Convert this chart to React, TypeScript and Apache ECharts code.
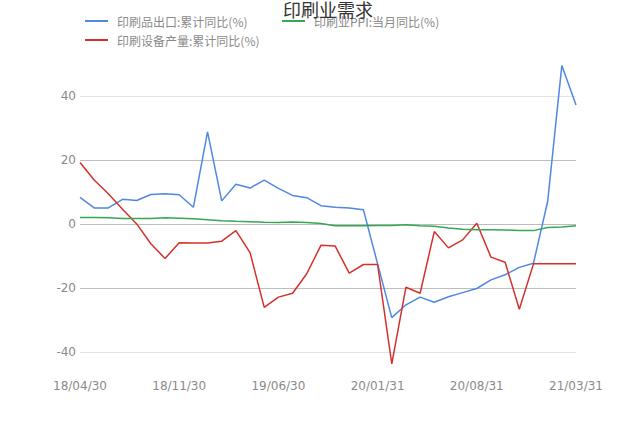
import React, { useEffect, useRef } from 'react';
import * as echarts from 'echarts';

const dates = [
  '18/04/30', '18/05/31', '18/06/30', '18/07/31', '18/08/31', '18/09/30',
  '18/10/31', '18/11/30', '18/12/31', '19/01/31', '19/02/28', '19/03/31',
  '19/04/30', '19/05/31', '19/06/30', '19/07/31', '19/08/31', '19/09/30',
  '19/10/31', '19/11/30', '19/12/31', '20/01/31', '20/02/29', '20/03/31',
  '20/04/30', '20/05/31', '20/06/30', '20/07/31', '20/08/31', '20/09/30',
  '20/10/31', '20/11/30', '20/12/31', '21/01/31', '21/02/28', '21/03/31',
];

// 印刷品出口:累计同比(%)
const printExport = [
  8.3, 5.0, 5.0, 7.7, 7.3, 9.2, 9.4, 9.1, 5.2, 28.8, 7.2, 12.4,
  11.2, 13.7, 11.1, 8.9, 8.2, 5.7, 5.2, 5.0, 4.4, -12.5, -29.3, -25.3,
  -22.9, -24.5, -22.8, -21.5, -20.2, -17.5, -15.9, -13.6, -12.3, 7.0, 49.5, 37.2,
];

// 印刷业PPI:当月同比(%)
const printPpi = [
  2.0, 2.0, 1.9, 1.7, 1.7, 1.7, 1.9, 1.8, 1.6, 1.3, 1.0, 0.8,
  0.7, 0.5, 0.4, 0.6, 0.4, 0.1, -0.6, -0.6, -0.6, -0.5, -0.5, -0.3,
  -0.6, -0.7, -1.3, -1.7, -1.8, -1.8, -1.9, -2.1, -2.1, -1.1, -1.0, -0.6,
];

// 印刷设备产量:累计同比(%)
const equipOutput = [
  19.2, 13.7, 9.4, 4.6, 0.0, -6.2, -10.8, -5.9, -6.0, -6.0, -5.4, -2.1,
  -9.0, -26.1, -22.9, -21.7, -15.6, -6.7, -6.9, -15.4, -12.7, -12.7, -43.8, -19.8,
  -21.7, -2.4, -7.5, -5.0, 0.2, -10.4, -12.0, -26.7, -12.5, -12.5, -12.5, -12.5,
];

const cjkFont = '"Noto Sans CJK SC", "DejaVu Sans", sans-serif';

const App: React.FC = () => {
  const chartRef = useRef<HTMLDivElement>(null);

  useEffect(() => {
    if (!chartRef.current) return;
    const chart = echarts.init(chartRef.current, undefined, { renderer: 'svg' });

    // legend icons are thin bars, rows kept 19px apart by the text line height
    const legendText = { color: '#8a8a8a', fontSize: 12, fontFamily: cjkFont, lineHeight: 14, padding: [0, 0, 0, 4] };

    const option: echarts.EChartsOption = {
      animation: false,
      title: {
        text: '印刷业需求',
        left: 283,
        top: 0,
        padding: 0,
        textStyle: { fontSize: 18, fontWeight: 'normal', color: '#333', fontFamily: cjkFont },
      },
      legend: [
        {
          orient: 'vertical',
          left: 85,
          top: 14,
          padding: 0,
          itemGap: 5,
          icon: 'rect',
          itemWidth: 23,
          itemHeight: 2,
          textStyle: legendText,
          data: ['印刷品出口:累计同比(%)', '印刷设备产量:累计同比(%)'],
        },
        {
          orient: 'vertical',
          left: 282,
          top: 14,
          padding: 0,
          icon: 'rect',
          itemWidth: 23,
          itemHeight: 2,
          textStyle: legendText,
          data: ['印刷业PPI:当月同比(%)'],
        },
      ],
      grid: {
        left: 80,
        right: 64,
        top: 64,
        bottom: 56,
      },
      xAxis: {
        type: 'category',
        boundaryGap: false,
        data: dates,
        axisLine: { show: false },
        axisTick: { show: false },
        axisLabel: {
          interval: 6,
          color: '#8a8a8a',
          fontSize: 12,
          fontFamily: 'DejaVu Sans',
          margin: 9,
        },
      },
      yAxis: {
        type: 'value',
        min: -46,
        max: 50,
        splitNumber: 5,
        axisLine: { show: false },
        axisTick: { show: false },
        axisLabel: {
          color: '#8a8a8a',
          fontSize: 12,
          fontFamily: 'DejaVu Sans',
          margin: 4,
          showMinLabel: false,
          showMaxLabel: false,
        },
        splitLine: {
          showMinLine: false,
          showMaxLine: false,
          lineStyle: {
            color: ['#e4e4e4', '#bdbdbd', '#bdbdbd', '#bdbdbd', '#e4e4e4'],
            width: 1,
          },
        },
      },
      series: [
        {
          name: '印刷品出口:累计同比(%)',
          type: 'line',
          symbol: 'none',
          data: printExport,
          lineStyle: { width: 1.5, color: '#4f87e3' },
          itemStyle: { color: '#4f87e3' },
        },
        {
          name: '印刷设备产量:累计同比(%)',
          type: 'line',
          symbol: 'none',
          data: equipOutput,
          lineStyle: { width: 1.5, color: '#d5302a' },
          itemStyle: { color: '#d5302a' },
        },
        {
          name: '印刷业PPI:当月同比(%)',
          type: 'line',
          symbol: 'none',
          data: printPpi,
          lineStyle: { width: 1.5, color: '#34a853' },
          itemStyle: { color: '#34a853' },
        },
      ],
    };

    chart.setOption(option);

    return () => {
      chart.dispose();
    };
  }, []);

  return <div ref={chartRef} style={{ width: '640px', height: '427px', position: 'absolute', left: 0, top: 0 }} />;
};

export default App;
